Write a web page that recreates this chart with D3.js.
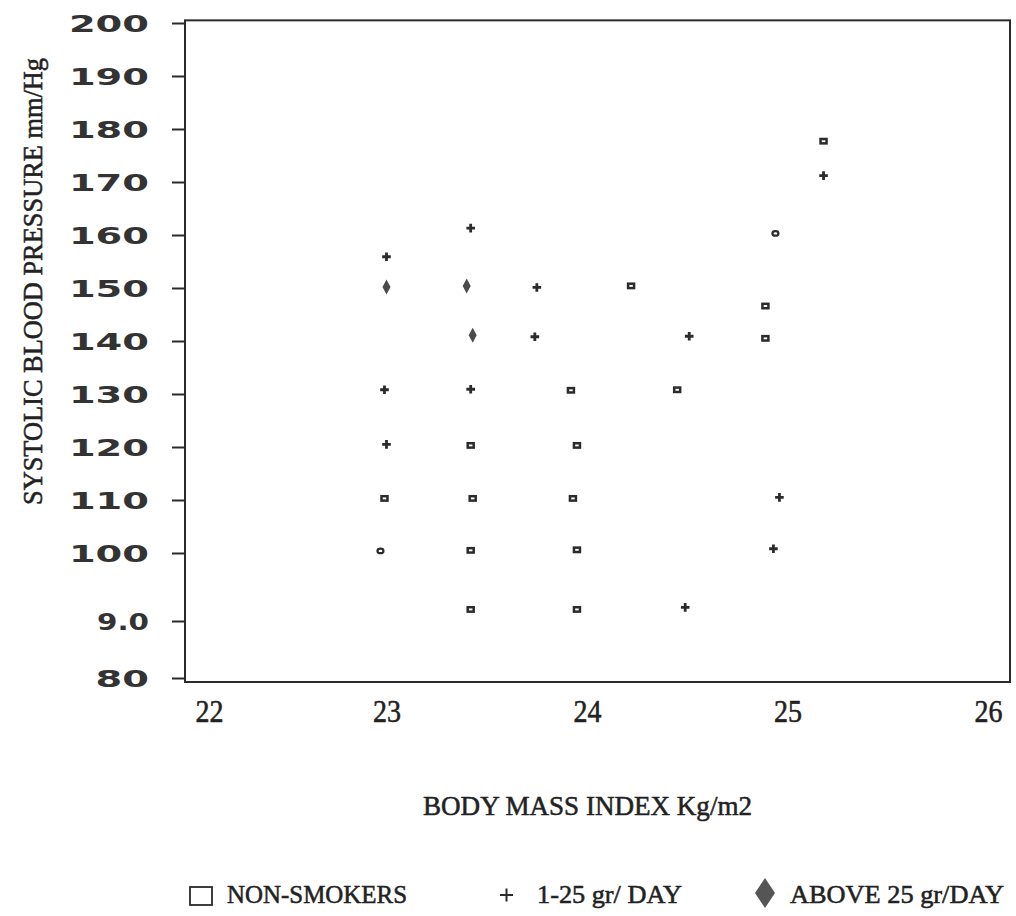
<!DOCTYPE html>
<html>
<head>
<meta charset="utf-8">
<script src="https://cdn.jsdelivr.net/npm/d3@7"></script>
<style>
  body { margin: 0; background: #fff; }
  .serif { font-family: "Liberation Serif", "DejaVu Serif", serif; fill: #222; stroke: #222; stroke-width: 0.55px; }
</style>
</head>
<body>
<svg id="chart"></svg>
<script>
const width = 1016;
const height = 916;

// [BMI, systolic pressure]
const nonSmokers = [
  [24.22, 150.4], [23.92, 130.7], [24.45, 130.8], [23.42, 120.3], [23.95, 120.3],
  [22.99, 110.3], [23.43, 110.3], [23.93, 110.3], [23.42, 100.5], [23.95, 100.6],
  [23.42, 91.7], [23.95, 91.7], [25.18, 177.7], [24.89, 146.6], [24.89, 140.5]
];
// two non-smoker marks printed as small rings
const nonSmokersRound = [[22.97, 100.4], [24.94, 160.3]];
const lightSmokers = [
  [23.42, 161.3], [23.00, 155.9], [23.75, 150.1], [23.74, 140.8], [24.51, 140.9],
  [22.99, 130.8], [23.42, 130.9], [23.00, 120.5], [24.96, 110.5], [24.93, 100.8],
  [24.49, 92.0], [25.18, 171.2]
];
const heavySmokers = [[23.00, 150.2], [23.40, 150.4], [23.43, 141.1]];

const yTicks = [80, 90, 100, 110, 120, 130, 140, 150, 160, 170, 180, 190, 200];
const yTickLabels = ["80", "9.0", "100", "110", "120", "130", "140", "150", "160", "170", "180", "190", "200"];
const xTicks = [22, 23, 24, 25, 26];
const legendLabels = ["NON-SMOKERS", "1-25 gr/ DAY", "ABOVE 25 gr/DAY"];

var svg = d3.select("#chart")
    .attr("width", width)
    .attr("height", height)
    .attr("viewBox", `0 0 ${width} ${height}`);

var x = d3.scaleLinear().domain([22, 26.11]).range([186, 1010]);
// the printed axis is stretched below 100
var y = d3.scaleLinear().domain([80, 90, 100, 200]).range([678, 621, 553, 23]);

const ink = "#2b2b2b";

// plot frame
svg.append("rect")
    .attr("x", x(22) - 1)
    .attr("y", y(200.5))
    .attr("width", x(26.11) - x(22) + 1)
    .attr("height", y(79.3) - y(200.5))
    .attr("fill", "none")
    .attr("stroke", ink)
    .attr("stroke-width", 2);

// y axis, wide plotter digits
var yAxis = svg.append("g")
    .attr("transform", `translate(${x(22) - 1},0)`)
    .call(d3.axisLeft(y).tickValues(yTicks).tickSize(13)
        .tickFormat((d, i) => yTickLabels[i]));
yAxis.select(".domain").remove();
yAxis.selectAll(".tick line").attr("stroke", ink).attr("stroke-width", 2);
yAxis.selectAll(".tick text")
    .attr("x", -36)
    .attr("dy", "0.36em")
    .attr("textLength", (d, i) => yTickLabels[i] === "9.0" ? 52 : yTickLabels[i].length * 26.7)
    .attr("lengthAdjust", "spacingAndGlyphs")
    .style("font-family", "'DejaVu Sans', sans-serif")
    .style("font-weight", "bold")
    .style("font-size", "23px")
    .attr("fill", "#333");

// x axis labels (no tick marks on the scan)
var xAxis = svg.append("g")
    .attr("transform", `translate(0,${y(79.3)})`)
    .call(d3.axisBottom(x).tickValues(xTicks).tickSize(0).tickFormat(d3.format("d")));
xAxis.select(".domain").remove();
xAxis.selectAll(".tick text")
    .attr("class", "serif")
    .attr("y", 40)
    .attr("dy", 0)
    .attr("textLength", 28)
    .attr("lengthAdjust", "spacingAndGlyphs")
    .attr("text-anchor", (d, i) => i === 0 ? "start" : "middle")
    .attr("x", (d, i) => i === 0 ? 9 : 0)
    .style("font-size", "31px")
    .style("font-family", "'Liberation Serif', serif");

// axis titles
svg.append("text")
    .attr("class", "serif")
    .attr("x", 587.5)
    .attr("y", 815)
    .attr("text-anchor", "middle")
    .attr("textLength", 329)
    .attr("lengthAdjust", "spacingAndGlyphs")
    .style("font-size", "28px")
    .text("BODY MASS INDEX Kg/m2");

svg.append("text")
    .attr("class", "serif")
    .attr("transform", "translate(42,281.5) rotate(-90)")
    .attr("text-anchor", "middle")
    .attr("textLength", 447)
    .attr("lengthAdjust", "spacingAndGlyphs")
    .style("font-size", "28px")
    .text("SYSTOLIC BLOOD PRESSURE mm/Hg");

// marks
var plot = svg.append("g");

plot.selectAll(".sq")
    .data(nonSmokers)
    .enter().append("rect")
    .attr("class", "sq")
    .attr("x", d => x(d[0]) - 3)
    .attr("y", d => y(d[1]) - 2.2)
    .attr("width", 6)
    .attr("height", 4.4)
    .attr("fill", "#fff")
    .attr("stroke", ink)
    .attr("stroke-width", 2.5);

plot.selectAll(".ring")
    .data(nonSmokersRound)
    .enter().append("ellipse")
    .attr("class", "ring")
    .attr("cx", d => x(d[0]))
    .attr("cy", d => y(d[1]))
    .attr("rx", 3)
    .attr("ry", 2.3)
    .attr("fill", "#fff")
    .attr("stroke", ink)
    .attr("stroke-width", 2.2);

plot.selectAll(".plus")
    .data(lightSmokers)
    .enter().append("path")
    .attr("class", "plus")
    .attr("transform", d => `translate(${x(d[0])},${y(d[1])})`)
    .attr("d", "M-4.3,0H4.3M0,-4.3V4.3")
    .attr("stroke", ink)
    .attr("stroke-width", 2.8);

plot.selectAll(".dia")
    .data(heavySmokers)
    .enter().append("path")
    .attr("class", "dia")
    .attr("transform", d => `translate(${x(d[0])},${y(d[1])})`)
    .attr("d", "M0,-7.5L4,0L0,7.5L-4,0Z")
    .attr("fill", "#4a4a4a");

// legend
var legend = svg.append("g");
legend.append("rect")
    .attr("x", 190).attr("y", 887)
    .attr("width", 22).attr("height", 18)
    .attr("fill", "none").attr("stroke", ink).attr("stroke-width", 1.8);
legend.append("path")
    .attr("d", "M500,895H513M506.5,888.5V901.5")
    .attr("stroke", ink).attr("stroke-width", 2);
legend.append("path")
    .attr("d", "M765,878L775,893L765,908L755,893Z")
    .attr("fill", "#555");

const legendX = [227, 537, 790];
const legendW = [180, 145, 214];
legend.selectAll(".lab")
    .data(legendLabels)
    .enter().append("text")
    .attr("class", "serif lab")
    .attr("x", (d, i) => legendX[i])
    .attr("y", 903)
    .attr("textLength", (d, i) => legendW[i])
    .attr("lengthAdjust", "spacingAndGlyphs")
    .style("font-size", "26px")
    .text(d => d);
</script>
</body>
</html>
